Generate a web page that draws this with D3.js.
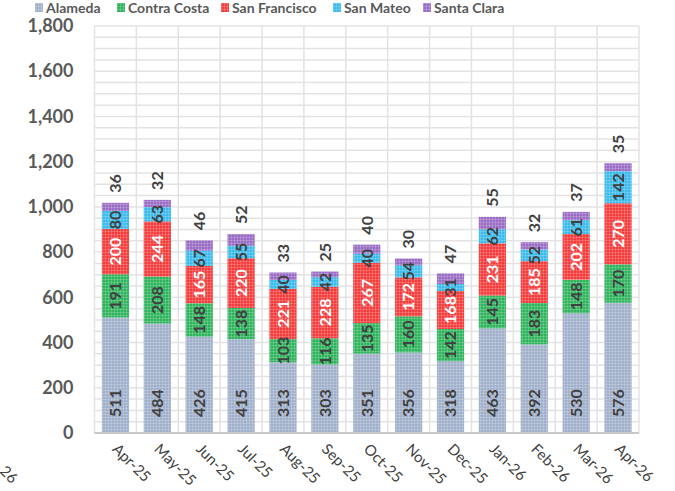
<!DOCTYPE html>
<html>
<head>
<meta charset="utf-8">
<script src="https://cdn.jsdelivr.net/npm/d3@7"></script>
<style>
	html, body { margin: 0; padding: 0; background: #fff; }
	svg { display: block; font-family: Lato, "Open Sans", sans-serif; }
</style>
</head>
<body>
<div id="chart"></div>
<script>
var months = ['Apr-25', 'May-25', 'Jun-25', 'Jul-25', 'Aug-25', 'Sep-25', 'Oct-25',
	'Nov-25', 'Dec-25', 'Jan-26', 'Feb-26', 'Mar-26', 'Apr-26'];
var counties = ['Alameda', 'Contra Costa', 'San Francisco', 'San Mateo', 'Santa Clara'];
var alameda = [511, 484, 426, 415, 313, 303, 351, 356, 318, 463, 392, 530, 576];
var contraCosta = [191, 208, 148, 138, 103, 116, 135, 160, 142, 145, 183, 148, 170];
var sanFrancisco = [200, 244, 165, 220, 221, 228, 267, 172, 168, 231, 185, 202, 270];
var sanMateo = [80, 63, 67, 55, 40, 42, 40, 54, 31, 62, 52, 61, 142];
var santaClara = [36, 32, 46, 52, 33, 25, 40, 30, 47, 55, 32, 37, 35];
var yTicks = [0, 200, 400, 600, 800, 1000, 1200, 1400, 1600, 1800];

(function(d3){
	'use strict';

	var W = 675, H = 491;
	var plot = { left: 94.5, right: 639, top: 26, bot: 433 };
	var colors = ['#a0b0ca', '#2fb45d', '#f53c3c', '#3bbbec', '#9a6dc5'];
	var labelColors = ['#404040', '#404040', '#ffffff', '#404040', '#404040'];
	var legendX = [35, 117, 221, 333, 423];

	var series = [alameda, contraCosta, sanFrancisco, sanMateo, santaClara];
	var rows = months.map(function(m, i){
		var row = { month: m };
		counties.forEach(function(c, k){ row[c] = series[k][i]; });
		return row;
	});
	var stacked = d3.stack().keys(counties)(rows);

	var xScale = d3.scaleBand()
		.domain(months)
		.range([plot.left, plot.right])
		.paddingInner(0.35)
		.paddingOuter(0.175);
	var yScale = d3.scaleLinear().domain([0, 1800]).range([plot.bot, plot.top]);

	var svg = d3.select('#chart').append('svg')
		.attr('width', W)
		.attr('height', H);

	// textured fills, like the office pattern fill
	var defs = svg.append('defs');
	colors.forEach(function(c, k){
		var p = defs.append('pattern')
			.attr('id', 'pat' + k)
			.attr('patternUnits', 'userSpaceOnUse')
			.attr('width', 3)
			.attr('height', 3);
		p.append('rect').attr('width', 3).attr('height', 3).attr('fill', c);
		p.append('rect').attr('width', 3).attr('height', 1).attr('fill', '#fff').attr('opacity', 0.18);
		p.append('rect').attr('width', 1).attr('height', 3).attr('fill', '#fff').attr('opacity', 0.18);
	});

	// GRID
	var grid = svg.append('g').attr('class', 'grid');
	grid.selectAll('line.h')
		.data(d3.range(50, 1801, 50))
		.enter().append('line')
		.attr('x1', plot.left).attr('x2', plot.right)
		.attr('y1', function(d){ return yScale(d); })
		.attr('y2', function(d){ return yScale(d); })
		.attr('stroke', '#e3e3e3')
		.attr('stroke-width', 1.5);
	var step = xScale.step();
	grid.selectAll('line.v')
		.data(d3.range(months.length + 1))
		.enter().append('line')
		.attr('x1', function(i){ return plot.left + i * step; })
		.attr('x2', function(i){ return plot.left + i * step; })
		.attr('y1', plot.top).attr('y2', plot.bot)
		.attr('stroke', '#e3e3e3')
		.attr('stroke-width', 1.5);

	// Y AXIS
	var yAxis = d3.axisLeft(yScale)
		.tickValues(yTicks)
		.tickFormat(d3.format(','))
		.tickSize(0)
		.tickPadding(21);
	var yG = svg.append('g')
		.attr('transform', 'translate(' + plot.left + ',0)')
		.call(yAxis);
	yG.select('.domain').remove();
	yG.selectAll('text')
		.attr('fill', '#595959')
		.attr('font-size', '18px')
		.attr('font-weight', 'bold')
		.attr('font-family', 'Lato, sans-serif');

	// BARS
	var layers = svg.selectAll('g.layer')
		.data(stacked)
		.enter().append('g')
		.attr('class', 'layer')
		.attr('fill', function(d, k){ return 'url(#pat' + k + ')'; });
	layers.selectAll('rect')
		.data(function(d){ return d; })
		.enter().append('rect')
		.attr('x', function(d){ return xScale(d.data.month); })
		.attr('y', function(d){ return yScale(d[1]); })
		.attr('width', xScale.bandwidth())
		.attr('height', function(d){ return yScale(d[0]) - yScale(d[1]); });

	// x axis line
	svg.append('line')
		.attr('x1', plot.left).attr('x2', plot.right)
		.attr('y1', plot.bot).attr('y2', plot.bot)
		.attr('stroke', '#c8c8c8')
		.attr('stroke-width', 2);

	// DATA LABELS
	stacked.forEach(function(layer, k){
		svg.append('g').selectAll('text')
			.data(layer)
			.enter().append('text')
			.text(function(d){ return d.data[layer.key]; })
			.attr('transform', function(d){
				var cx = xScale(d.data.month) + xScale.bandwidth() / 2;
				var cy;
				if (k === 0) cy = yScale(0) - 16;
				else if (k === 4) cy = yScale(d[1]) - 10;
				else cy = (yScale(d[0]) + yScale(d[1])) / 2;
				return 'translate(' + cx + ',' + cy + ') rotate(-90)';
			})
			.attr('text-anchor', (k === 0 || k === 4) ? 'start' : 'middle')
			.attr('dy', '0.36em')
			.attr('fill', labelColors[k])
			.attr('font-size', '16px')
			.attr('font-weight', 'bold');
	});

	// X LABELS
	svg.append('g').selectAll('text')
		.data(months)
		.enter().append('text')
		.text(function(d){ return d; })
		.attr('transform', function(d){
			var cx = xScale(d) + xScale.bandwidth() / 2 - 4;
			return 'translate(' + cx + ',450) rotate(45)';
		})
		.attr('fill', '#404040')
		.attr('font-size', '15px');

	// stray clipped label at the bottom left
	svg.append('text')
		.text('26')
		.attr('transform', 'translate(-1,472) rotate(45)')
		.attr('fill', '#404040')
		.attr('font-size', '15px');

	// LEGEND
	var legend = svg.append('g').selectAll('g')
		.data(counties)
		.enter().append('g')
		.attr('transform', function(d, k){ return 'translate(' + legendX[k] + ',0)'; });
	legend.append('rect')
		.attr('y', 3)
		.attr('width', 8)
		.attr('height', 9)
		.attr('fill', function(d, k){ return 'url(#pat' + k + ')'; });
	legend.append('text')
		.text(function(d){ return d; })
		.attr('x', 11)
		.attr('y', 13)
		.attr('fill', '#595959')
		.attr('font-size', '14px')
		.attr('font-weight', 'bold');

})(d3);
</script>
</body>
</html>
